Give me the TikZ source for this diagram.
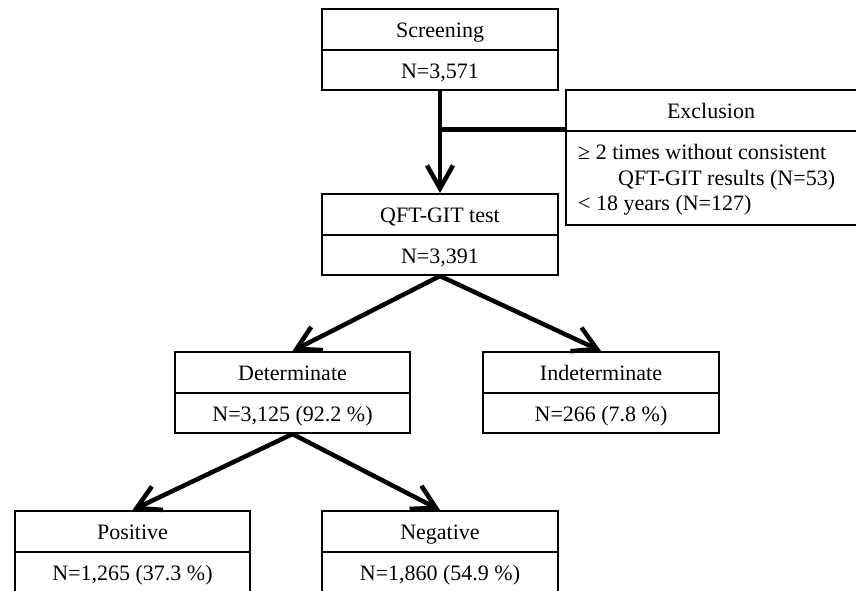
\documentclass[tikz,border=0pt]{standalone}
\usepackage{fontspec}
\setmainfont{Liberation Serif}
\usetikzlibrary{arrows.meta}
\tikzset{
  half/.style={draw=black, line width=2pt, minimum width=236pt, minimum height=40.5pt, inner sep=0pt, text height=17pt, text depth=0pt, anchor=north west, font=\fontsize{22}{24}\selectfont},
  flow/.style={line width=4.5pt, -{Straight Barb[length=23pt,width=26pt]}},
  plain/.style={line width=4.5pt},
  txt/.style={anchor=base west, inner sep=0pt, font=\fontsize{22}{24}\selectfont}
}
\begin{document}
\begin{tikzpicture}[x=1pt,y=-1pt]
\useasboundingbox (0,0) rectangle (856,590);
% Screening
\node[half] (scr) at (321,8) {Screening};
\node[half] (scrN) at (321,48.5) {N=3,571};
% QFT
\node[half] (qft) at (321,193) {QFT-GIT test};
\node[half] (qftN) at (321,233.5) {N=3,391};
% Exclusion
\node[half, minimum width=300pt] (exc) at (565,89) {\hspace*{-10pt}Exclusion};
\node[half, minimum width=300pt, minimum height=94pt] (excB) at (565,129.5) {};
\node[txt] (e1) at (578,159) {≥ 2 times without consistent};
\node[txt] (e2) at (618,185) {QFT-GIT results (N=53)};
\node[txt] (e3) at (578,210) {< 18 years (N=127)};
% Determinate / Indeterminate
\node[half, minimum width=235pt] (det) at (174,351) {Determinate};
\node[half, minimum width=235pt] (detN) at (174,391.5) {N=3,125 (92.2 \%)};
\node[half] (ind) at (482,351) {Indeterminate};
\node[half] (indN) at (482,391.5) {N=266 (7.8 \%)};
% Positive / Negative
\node[half, minimum width=235pt] (pos) at (14,510) {Positive};
\node[half, minimum width=235pt] (posN) at (14,550.5) {N=1,265 (37.3 \%)};
\node[half] (neg) at (321,510) {Negative};
\node[half] (negN) at (321,550.5) {N=1,860 (54.9 \%)};
% connectors
\draw[flow] (scrN.south) -- (qft.north);
\draw[plain] (scrN.south |- excB.north west) -- (excB.north west);
\draw[flow] (qftN.south) -- (det.north);
\draw[flow] (qftN.south) -- (ind.north);
\draw[flow] (detN.south) -- (pos.north);
\draw[flow] (detN.south) -- (neg.north);
\end{tikzpicture}
\end{document}
